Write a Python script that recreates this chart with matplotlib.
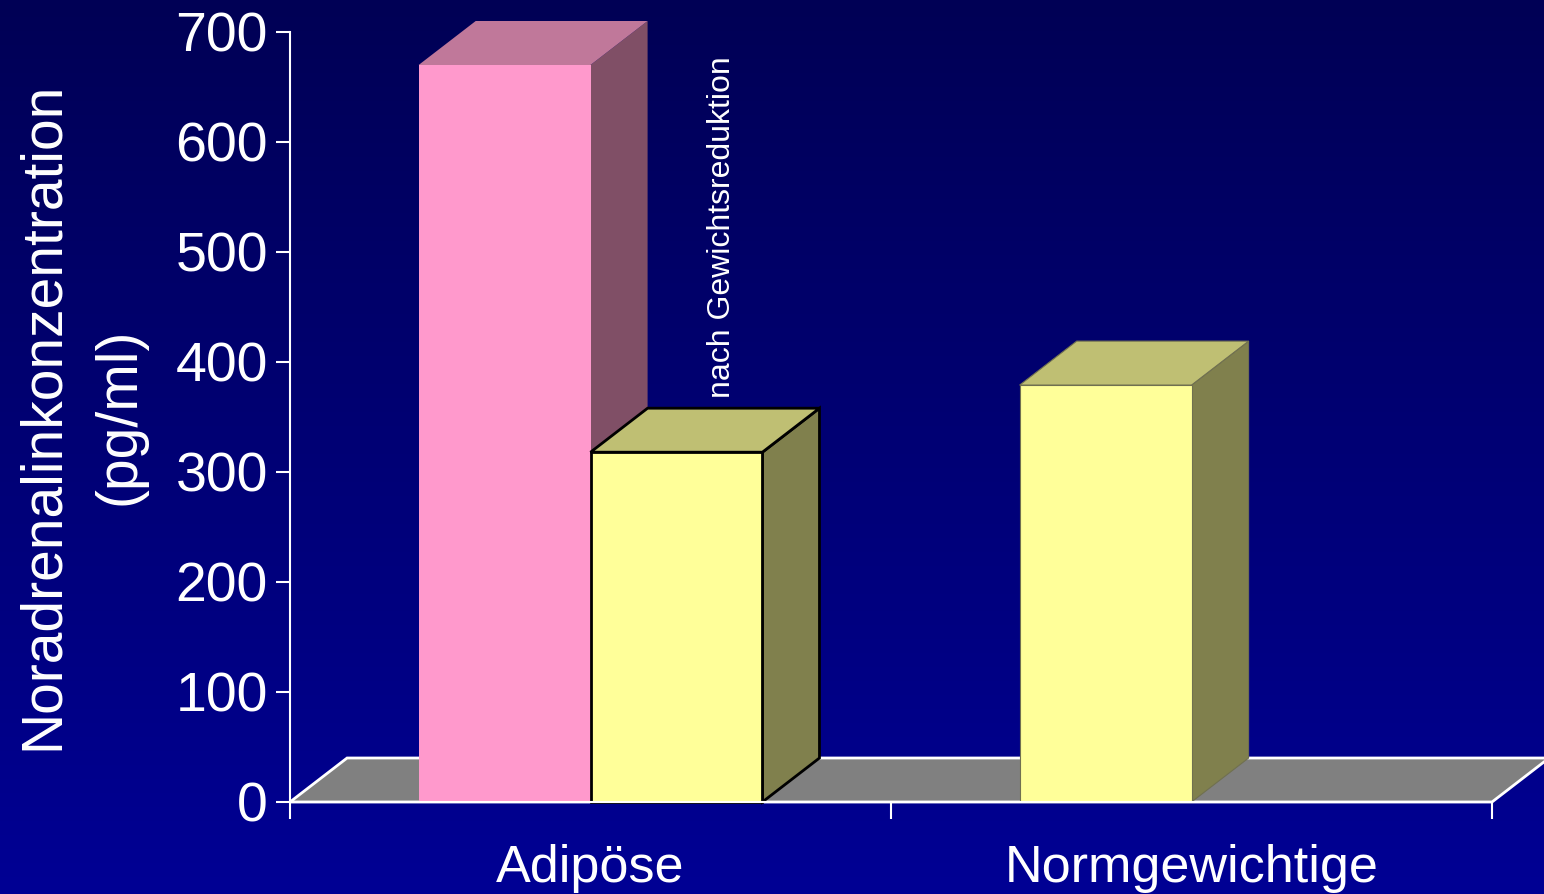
import numpy as np
import matplotlib
matplotlib.use("Agg")
import matplotlib.pyplot as plt
from matplotlib.patches import Polygon, Rectangle

plt.rcParams['font.family'] = ['Liberation Sans', 'DejaVu Sans']

# ---- data ----
categories = ["Adipöse", "Normgewichtige"]
bar_groups = [0, 0, 1]                 # category index of each bar
bar_slots = [0, 1, 0]                  # slot within the group
bar_values = [670, 318, 379]           # pg/ml
y_ticks = [0, 100, 200, 300, 400, 500, 600, 700]
annotation = "nach Gewichtsreduktion"
y_label = "Noradrenalinkonzentration\n(pg/ml)"

# ---- styles ----
W, H = 1544, 894
fig = plt.figure(figsize=(W / 100, H / 100), dpi=100)

# gradient background
bg = fig.add_axes([0, 0, 1, 1], zorder=-10)
grad = np.linspace(0, 1, 256).reshape(-1, 1)
top = np.array([0x00, 0x00, 0x55]) / 255
bot = np.array([0x00, 0x00, 0x94]) / 255
img = top + (bot - top) * grad[..., None]
img = np.repeat(img, 2, axis=1)
bg.imshow(img, aspect='auto', extent=[0, 1, 0, 1], origin='upper')
bg.axis('off')

ax = fig.add_axes([290 / W, 92 / H, 1202 / W, 770 / H])
ax.set_facecolor('none')
ax.set_xlim(0, 2)
ax.set_ylim(0, 700)

DX, DY = 0.095, 40.0        # depth offset (category units, value units)
BW = 0.286                   # bar width
face_cols = [("#FF99CC", "#C0789A", "#804F66", "none", 0),
             ("#FFFF99", "#BFBF73", "#80804D", "black", 2.0),
             ("#FFFF99", "#BFBF73", "#80804D", "#707050", 0.8)]

# floor
floor = Polygon([(0, 0), (2, 0), (2 + DX, DY), (DX, DY)], closed=True,
                facecolor="#808080", edgecolor="white", lw=2, clip_on=False, zorder=1)
ax.add_patch(floor)

for i, (g, s, v) in enumerate(zip(bar_groups, bar_slots, bar_values)):
    fc, tc, sc, ec, lw = face_cols[i]
    x0 = g + 0.5 - BW + s * BW
    x1 = x0 + BW
    z = 2 + i
    front = Rectangle((x0, 0), BW, v, facecolor=fc, edgecolor=ec, lw=lw,
                      clip_on=False, zorder=z, joinstyle='miter')
    topf = Polygon([(x0, v), (x1, v), (x1 + DX, v + DY), (x0 + DX, v + DY)],
                   closed=True, facecolor=tc, edgecolor=ec, lw=lw, clip_on=False, zorder=z)
    side = Polygon([(x1, 0), (x1 + DX, DY), (x1 + DX, v + DY), (x1, v)],
                   closed=True, facecolor=sc, edgecolor=ec, lw=lw, clip_on=False, zorder=z)
    ax.add_patch(side)
    ax.add_patch(topf)
    ax.add_patch(front)

# axes styling
for sp in ['top', 'right']:
    ax.spines[sp].set_visible(False)
for sp in ['left', 'bottom']:
    ax.spines[sp].set_color('white')
    ax.spines[sp].set_linewidth(1.5)
    ax.spines[sp].set_zorder(10)

ax.set_yticks(y_ticks)
ax.set_yticklabels([str(t) for t in y_ticks])
ax.tick_params(axis='y', colors='white', labelsize=40, length=10, width=1.5,
               direction='out', pad=6)
ax.set_xticks([0, 1, 2])
ax.set_xticklabels([])
ax.tick_params(axis='x', which='major', colors='white', length=12, width=1.5, direction='out')
ax.set_xticks([0.5, 1.5], minor=True)
ax.set_xticklabels(categories, minor=True)
ax.tick_params(axis='x', which='minor', length=0, labelsize=37.5, labelcolor='white', pad=30)

fig.text(81 / W, 1 - 416 / H, y_label, rotation=90, color='white', fontsize=41,
         ha='center', va='center', multialignment='center', linespacing=1.55)

ax.text(0.719, 367, annotation, rotation=90, color='white', fontsize=23,
        ha='center', va='bottom', zorder=20)

fig.savefig("out.png", dpi=100, facecolor="#000070")
